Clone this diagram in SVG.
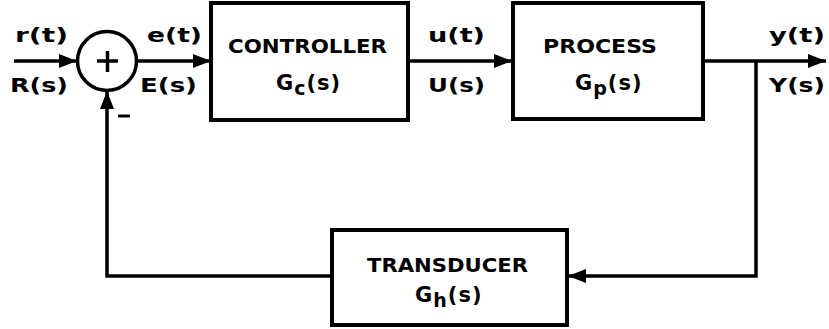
<svg xmlns="http://www.w3.org/2000/svg" width="829" height="329" viewBox="0 0 829 329">
<defs>
<style>
.box{fill:#fff;stroke:#000;stroke-width:4}
.ln{fill:none;stroke:#000;stroke-width:3.5}
.t{font-family:"DejaVu Sans","Liberation Sans",sans-serif;font-weight:bold;font-size:19px;fill:#000}
.g{font-size:21px;letter-spacing:1px}
.sub{font-size:19px}
</style>
<marker id="ah" markerUnits="userSpaceOnUse" markerWidth="18" markerHeight="14" refX="18" refY="7" orient="auto">
<path d="M0,0 L18,7 L0,14 Z" fill="#000"/>
</marker>
</defs>
<rect width="829" height="329" fill="#fff"/>
<g id="connectors">
<line class="ln" x1="14" y1="61" x2="77" y2="61" marker-end="url(#ah)"/>
<line class="ln" x1="137" y1="61" x2="211" y2="61" marker-end="url(#ah)"/>
<line class="ln" x1="408" y1="61" x2="512" y2="61" marker-end="url(#ah)"/>
<line class="ln" x1="703" y1="61" x2="826" y2="61" marker-end="url(#ah)"/>
<polyline class="ln" points="756,61 756,276 568,276" marker-end="url(#ah)"/>
<polyline class="ln" points="332,276 107,276 107,91" marker-end="url(#ah)"/>
</g>
<g id="sum">
<circle cx="107" cy="61" r="29.5" fill="#fff" stroke="#000" stroke-width="3.5"/>
<line x1="97" y1="61" x2="118" y2="61" stroke="#000" stroke-width="3.5"/>
<line x1="107.5" y1="51" x2="107.5" y2="72" stroke="#000" stroke-width="3.5"/>
<line x1="118" y1="116" x2="130" y2="116" stroke="#000" stroke-width="3"/>
</g>
<g id="controller">
<rect class="box" x="211" y="3" width="197" height="117"/>
<text class="t" x="228" y="53" textLength="159" lengthAdjust="spacingAndGlyphs">CONTROLLER</text>
<text class="t g" x="276" y="90">G<tspan class="sub" dy="5">c</tspan><tspan dy="-5">(s)</tspan></text>
</g>
<g id="process">
<rect class="box" x="513" y="3" width="190" height="116"/>
<text class="t" x="543" y="53" textLength="114" lengthAdjust="spacingAndGlyphs">PROCESS</text>
<text class="t g" x="575" y="90">G<tspan class="sub" dy="5">p</tspan><tspan dy="-5">(s)</tspan></text>
</g>
<g id="transducer">
<rect class="box" x="332" y="230" width="235" height="95"/>
<text class="t" x="367" y="272" textLength="161" lengthAdjust="spacingAndGlyphs">TRANSDUCER</text>
<text class="t g" x="415" y="302">G<tspan class="sub" dy="5">h</tspan><tspan dy="-5">(s)</tspan></text>
</g>
<g id="labels">
<text class="t" x="15" y="42" textLength="53" lengthAdjust="spacingAndGlyphs">r(t)</text>
<text class="t" x="10" y="92" textLength="58" lengthAdjust="spacingAndGlyphs">R(s)</text>
<text class="t" x="147" y="42" textLength="55" lengthAdjust="spacingAndGlyphs">e(t)</text>
<text class="t" x="140" y="92" textLength="57" lengthAdjust="spacingAndGlyphs">E(s)</text>
<text class="t" x="428" y="42" textLength="57" lengthAdjust="spacingAndGlyphs">u(t)</text>
<text class="t" x="428" y="92" textLength="57" lengthAdjust="spacingAndGlyphs">U(s)</text>
<text class="t" x="769" y="42" textLength="56" lengthAdjust="spacingAndGlyphs">y(t)</text>
<text class="t" x="769" y="92" textLength="56" lengthAdjust="spacingAndGlyphs">Y(s)</text>
</g>
</svg>
